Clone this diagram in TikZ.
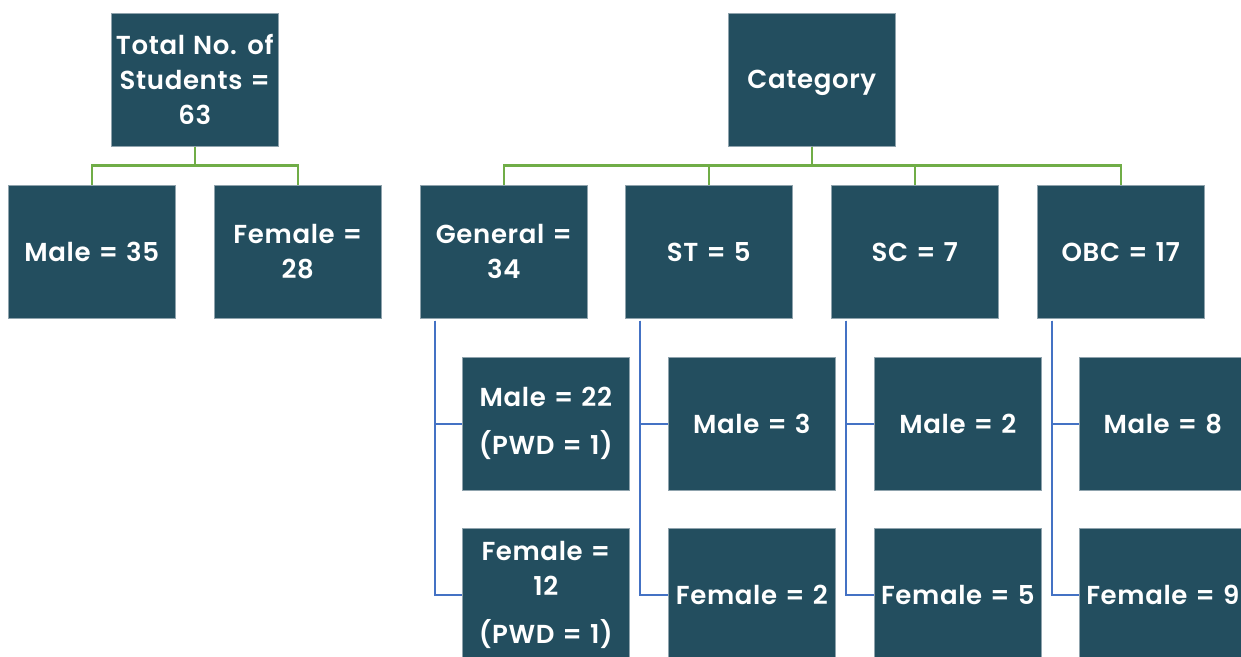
\documentclass[tikz,border=0pt]{standalone}
\usepackage{fontspec}
\setmainfont{Poppins}[BoldFont={Poppins SemiBold}, LetterSpace=2.5, WordSpace=1.2]
\definecolor{boxfill}{HTML}{234E5F}
\definecolor{boxline}{HTML}{8FA3AD}
\definecolor{lgreen}{HTML}{70AD47}
\definecolor{lblue}{HTML}{4472C4}
\tikzset{
  cbox/.style={rectangle, anchor=north west, minimum width=167pt, minimum height=133pt,
    inner sep=0pt, fill=boxfill, draw=boxline, line width=0.6pt, text=white,
    font=\fontsize{26}{35}\selectfont\bfseries, align=center},
  gline/.style={draw=lgreen, line width=2.6pt},
  bline/.style={draw=lblue, line width=2.4pt},
}
\begin{document}
\begin{tikzpicture}[x=1pt,y=-1pt]
\useasboundingbox (0,0) rectangle (1241,656);
\clip (0,0) rectangle (1241,656);
% top level
\node[cbox] (tot) at (111,13) {Total No. of\\Students =\\63};
\node[cbox, text depth=0pt] (cat) at (728,13) {Category};
% second level
\node[cbox] (m35) at (8,185) {Male = 35};
\node[cbox] (f28) at (214,185) {Female =\\28};
\node[cbox] (gen) at (420,185) {General =\\34};
\node[cbox] (st) at (625,185) {ST = 5};
\node[cbox] (sc) at (831,185) {SC = 7};
\node[cbox] (obc) at (1037,185) {OBC = 17};
% third level
\node[cbox] (gm) at (462,357) {Male = 22\\[13pt](PWD = 1)};
\node[cbox] (gf) at (462,528) {Female =\\12\\[13pt](PWD = 1)};
\node[cbox] (stm) at (668,357) {Male = 3};
\node[cbox] (stf) at (668,528) {Female = 2};
\node[cbox] (scm) at (874,357) {Male = 2};
\node[cbox] (scf) at (874,528) {Female = 5};
\node[cbox] (obm) at (1079,357) {Male = 8};
\node[cbox] (obf) at (1079,528) {Female = 9};
% green connectors
\draw[gline] (tot.south) -- ++(0,19) -| (m35.north);
\draw[gline] (tot.south) -- ++(0,19) -| (f28.north);
\foreach \c in {gen,st,sc,obc}
  \draw[gline] (cat.south) -- ++(0,19) -| (\c.north);
% blue connectors
\foreach \p/\m/\f in {gen/gm/gf, st/stm/stf, sc/scm/scf, obc/obm/obf}{
  \draw[bline] ([xshift=15pt,yshift=-2pt]\p.south west) |- (\m.west);
  \draw[bline] ([xshift=15pt,yshift=-2pt]\p.south west) |- (\f.west);
}
\end{tikzpicture}
\end{document}
